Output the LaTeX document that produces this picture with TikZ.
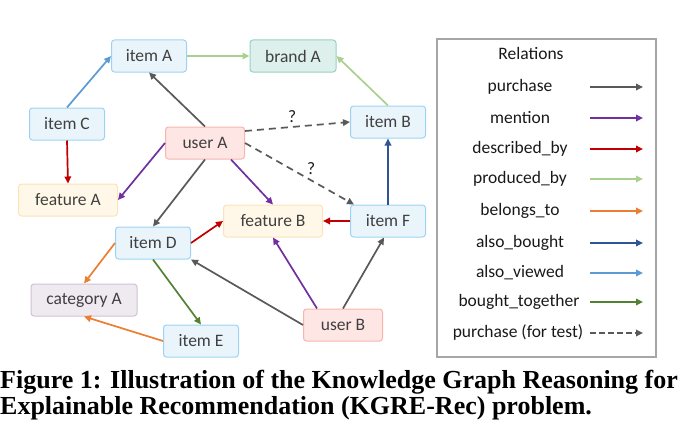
\documentclass[tikz,border=0pt]{standalone}
\usepackage{fontspec}
\setmainfont{Liberation Serif}
\newfontfamily\calibrifont{Carlito}
\usetikzlibrary{arrows.meta}

\definecolor{txtgray}{HTML}{404040}
\definecolor{itemfill}{HTML}{EAF5FB}\definecolor{itemline}{HTML}{9DD3F2}
\definecolor{brandfill}{HTML}{DDF0EC}\definecolor{brandline}{HTML}{93D2C6}
\definecolor{userfill}{HTML}{FDE6E4}\definecolor{userline}{HTML}{F7B5AE}
\definecolor{featfill}{HTML}{FFF7E7}\definecolor{featline}{HTML}{FCE3BA}
\definecolor{catfill}{HTML}{EFE9F0}\definecolor{catline}{HTML}{D0C2D5}
\definecolor{purchasec}{HTML}{595959}
\definecolor{mentionc}{HTML}{7030A0}
\definecolor{describedc}{HTML}{C00000}
\definecolor{producedc}{HTML}{A9D18E}
\definecolor{belongsc}{HTML}{ED7D31}
\definecolor{alsoboughtc}{HTML}{2F5597}
\definecolor{alsoviewedc}{HTML}{5B9BD5}
\definecolor{togetherc}{HTML}{548235}

\begin{document}
\begin{tikzpicture}[x=1pt,y=-1pt,>={Triangle[length=7pt,width=6.5pt]},
  ent/.style={draw,rounded corners=3pt,line width=1pt,font=\calibrifont\fontsize{17.5}{20}\selectfont,text=txtgray,minimum height=32pt,inner xsep=2pt},
  item/.style={ent,draw=itemline,fill=itemfill,minimum width=75pt},
  brand/.style={ent,draw=brandline,fill=brandfill,minimum width=86pt},
  user/.style={ent,draw=userline,fill=userfill,minimum width=79pt},
  feat/.style={ent,draw=featline,fill=featfill,minimum width=99pt},
  cat/.style={ent,draw=catline,fill=catfill,minimum width=106pt},
  rel/.style={line width=1.7pt,->},
  lab/.style={font=\calibrifont\fontsize{17.5}{20}\selectfont,text=black!90},
  captext/.style={anchor=base west,inner sep=0pt,font=\bfseries\fontsize{26}{28}\selectfont}]
\useasboundingbox (0,0) rectangle (685,428);
% entities
\node[item] (itemA) at (149,56) {item A};
\node[brand] (brandA) at (293,56) {brand A};
\node[item] (itemC) at (67,124) {item C};
\node[user] (userA) at (205,143) {user A};
\node[item] (itemB) at (388,122) {item B};
\node[feat] (featA) at (68,200) {feature A};
\node[feat] (featB) at (273,221) {feature B};
\node[item] (itemF) at (388,221) {item F};
\node[item] (itemD) at (153,243) {item D};
\node[cat] (catA) at (84,300) {category A};
\node[item] (itemE) at (201,341) {item E};
\node[user] (userB) at (343,325) {user B};
% relations
\draw[rel,alsoviewedc] (itemC.north) -- (itemA.west);
\draw[rel,producedc] (itemA.east) -- (brandA.west);
\draw[rel,producedc] (itemB.north) -- (brandA.east);
\draw[rel,describedc] (itemC.south) -- (featA.north);
\draw[rel,purchasec] (userA.north) -- (itemA.south);
\draw[rel,mentionc] (userA.west) -- (featA.east);
\draw[rel,purchasec] (userA.south) -- (itemD.north);
\draw[rel,mentionc] ([xshift=26pt]userA.south) -- (featB.north);
\draw[rel,purchasec,dashed,dash pattern=on 7pt off 5pt] ([yshift=12pt]userA.east) -- node[lab,above,pos=0.45]{?} (itemB.west);
\draw[rel,purchasec,dashed,dash pattern=on 7pt off 5pt] (userA.east) -- node[lab,above right=-2pt,pos=0.55]{?} ([xshift=4pt]itemF.north west);
\draw[rel,alsoboughtc] (itemF.north) -- (itemB.south);
\draw[rel,describedc] (itemF.west) -- (featB.east);
\draw[rel,describedc] (itemD.east) -- (featB.west);
\draw[rel,belongsc] (itemD.west) -- (catA.north);
\draw[rel,belongsc] (itemE.west) -- (catA.south);
\draw[rel,togetherc] (itemD.south) -- (itemE.north);
\draw[rel,purchasec] (userB.west) -- (itemD.south east);
\draw[rel,mentionc] ([xshift=14pt]userB.north west) -- (featB.south);
\draw[rel,purchasec] (userB.north) -- ([xshift=-4pt]itemF.south);
% legend
\node[draw=black!35,line width=2pt,minimum width=219pt,minimum height=318pt] (legend) at (546.5,198) {};
\node[lab] (reltitle) at (531,53) {Relations};
\node[lab] (l1) at (520,87) {purchase};
\node[lab] (l2) at (520,118) {mention};
\node[lab] (l3) at (520,149) {described\_by};
\node[lab] (l4) at (520,179) {produced\_by};
\node[lab] (l5) at (520,211) {belongs\_to};
\node[lab] (l6) at (520,243) {also\_bought};
\node[lab] (l7) at (520,273) {also\_viewed};
\node[lab] (l8) at (519,302) {bought\_together};
\node[lab] (l9) at (518,333) {purchase (for test)};
\coordinate (s1) at (590,87); \coordinate (e1) at (643,87);
\coordinate (s2) at (590,118); \coordinate (e2) at (643,118);
\coordinate (s3) at (590,149); \coordinate (e3) at (643,149);
\coordinate (s4) at (590,179); \coordinate (e4) at (643,179);
\coordinate (s5) at (590,211); \coordinate (e5) at (643,211);
\coordinate (s6) at (590,243); \coordinate (e6) at (643,243);
\coordinate (s7) at (590,273); \coordinate (e7) at (643,273);
\coordinate (s8) at (590,302); \coordinate (e8) at (643,302);
\coordinate (s9) at (590,333); \coordinate (e9) at (643,333);
\draw[rel,purchasec] (s1) -- (e1);
\draw[rel,mentionc] (s2) -- (e2);
\draw[rel,describedc] (s3) -- (e3);
\draw[rel,producedc] (s4) -- (e4);
\draw[rel,belongsc] (s5) -- (e5);
\draw[rel,alsoboughtc] (s6) -- (e6);
\draw[rel,alsoviewedc] (s7) -- (e7);
\draw[rel,togetherc] (s8) -- (e8);
\draw[rel,purchasec,dashed,dash pattern=on 6pt off 3pt] (s9) -- (e9);
% caption
\node[captext] (cap1) at (0,388) {Figure 1: Illustration of the Knowledge Graph Reasoning for};
\node[captext] (cap2) at (0,414) {Explainable Recommendation (KGRE-Rec) problem.};
\end{tikzpicture}
\end{document}
